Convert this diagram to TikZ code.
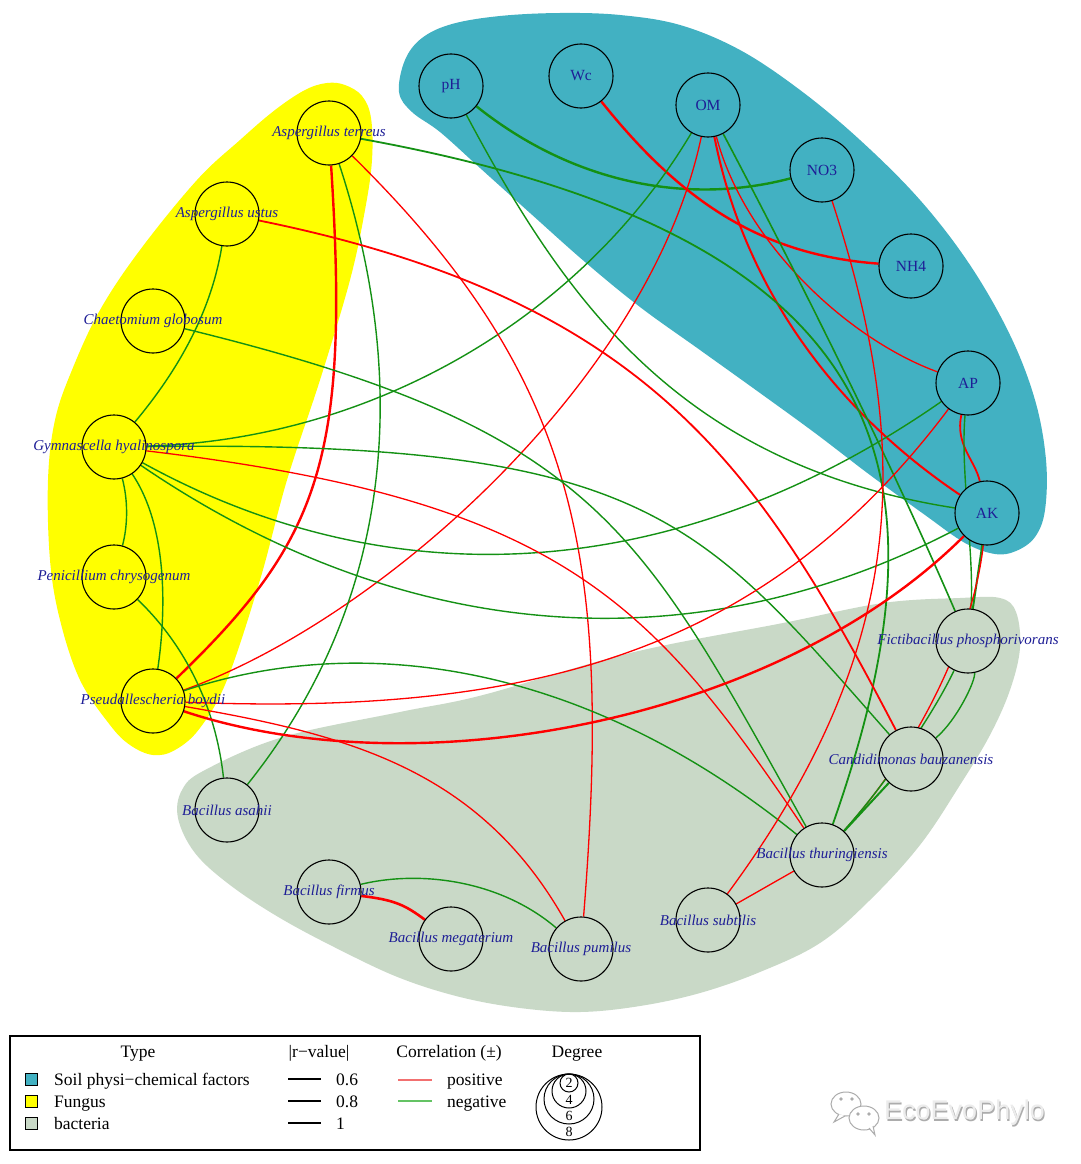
\documentclass[tikz,border=0pt]{standalone}
\usepackage{fontspec}
\setmainfont{Liberation Serif}
\newfontfamily\wmfont{Liberation Sans}
\usetikzlibrary{calc}
\pgfdeclarelayer{hulls}
\pgfdeclarelayer{edges}
\pgfsetlayers{hulls,edges,main}
\definecolor{tealc}{RGB}{66,177,194}
\definecolor{yellowc}{RGB}{255,255,0}
\definecolor{grayc}{RGB}{201,217,199}
\definecolor{lblue}{RGB}{30,30,150}
\definecolor{redc}{RGB}{255,0,0}
\definecolor{greenc}{RGB}{20,145,20}
\definecolor{legred}{RGB}{242,112,112}
\definecolor{leggreen}{RGB}{100,195,100}
\definecolor{wmdark}{RGB}{172,172,172}
\definecolor{wmlight}{RGB}{236,236,236}
\tikzset{
  vtx/.style={circle,draw=black,line width=1.1pt,minimum size=64pt,inner sep=0pt},
  soilv/.style={vtx,fill=tealc},
  fungv/.style={vtx,fill=yellowc},
  bactv/.style={vtx,fill=grayc},
  splabel/.style={text=lblue,font=\fontsize{15}{15}\selectfont\itshape,inner sep=0pt},
  soillabel/.style={text=lblue,font=\fontsize{15.5}{15.5}\selectfont,inner sep=0pt},
  spl/.style={label={[splabel]center:#1}},
  sll/.style={label={[soillabel]center:#1}},
  posedge/.style={draw=redc,line width=#1},
  posedge/.default=1.3pt,
  negedge/.style={draw=greenc,line width=#1},
  negedge/.default=1.4pt,
  lgt/.style={font=\fontsize{17.5}{17.5}\selectfont,inner sep=0pt},
  sqbox/.style={draw=black,line width=0.8pt,minimum size=12pt,inner sep=0pt},
  degnum/.style={font=\fontsize{14}{14}\selectfont,inner sep=0pt},
}
\begin{document}
\begin{tikzpicture}[x=1pt,y=-1pt]
\useasboundingbox (0,0) rectangle (1080,1164);

% ---------- hulls ----------
\begin{pgfonlayer}{hulls}
\fill[white] (0,0) rectangle (1080,1164);
\fill[tealc] plot[smooth cycle,tension=0.6] coordinates {
 (399,92) (405,60) (422,38) (452,24) (500,16) (560,13) (620,15) (680,25)
 (740,50) (800,90) (860,140) (920,200) (970,265) (1010,335) (1035,400)
 (1046,460) (1045,510) (1035,537) (1016,551) (995,554) (965,543) (925,515)
 (870,475) (815,433) (760,393) (700,350) (640,307) (585,262) (530,213)
 (480,168) (440,132) (412,112)};
\fill[yellowc] plot[smooth cycle,tension=0.6] coordinates {
 (327,83) (345,85) (362,96) (371,118) (372,160) (365,210) (350,280)
 (320,380) (287,480) (260,580) (227,680) (200,728) (175,750) (153,755)
 (130,745) (110,725) (80,680) (60,620) (50,560) (48,480) (55,420)
 (72,370) (100,310) (140,250) (197,180) (240,140) (275,110) (305,90)};
\fill[grayc] plot[smooth cycle,tension=0.6] coordinates {
 (960,598) (1000,598) (1016,612) (1020,648) (1010,690) (990,735) (960,785)
 (920,845) (870,900) (820,943) (760,972) (700,993) (640,1006) (580,1012)
 (520,1008) (460,997) (400,978) (340,950) (280,918) (230,885) (195,853)
 (178,818) (182,790) (205,770) (283,737) (400,712) (483,695) (630,653)
 (783,623) (883,603)};
\end{pgfonlayer}

% ---------- nodes ----------
\node[soilv,sll=pH]  (pH)  at (451,86)  {};
\node[soilv,sll=Wc]  (Wc)  at (581,76)  {};
\node[soilv,sll=OM]  (OM)  at (708,105) {};
\node[soilv,sll=NO3] (NO3) at (822,170) {};
\node[soilv,sll=NH4] (NH4) at (911,266) {};
\node[soilv,sll=AP]  (AP)  at (968,383) {};
\node[soilv,sll=AK]  (AK)  at (987,513) {};
\node[bactv,spl=Fictibacillus phosphorivorans] (Fic) at (968,641) {};
\node[bactv,spl=Candidimonas bauzanensis] (Can) at (911,759) {};
\node[bactv,spl=Bacillus thuringiensis] (Bth) at (822,855) {};
\node[bactv,spl=Bacillus subtilis] (Bsu) at (708,920) {};
\node[bactv,spl=Bacillus pumilus] (Bpu) at (581,949) {};
\node[bactv,spl=Bacillus megaterium] (Bme) at (451,939) {};
\node[bactv,spl=Bacillus firmus] (Bfi) at (329,892) {};
\node[bactv,spl=Bacillus asahii] (Bas) at (227,810) {};
\node[fungv,spl=Pseudallescheria boydii] (Pbo) at (153,701) {};
\node[fungv,spl=Penicillium chrysogenum] (Pch) at (114,577) {};
\node[fungv,spl=Gymnascella hyalinospora] (Ghy) at (114,447) {};
\node[fungv,spl=Chaetomium globosum] (Cgl) at (153,321) {};
\node[fungv,spl=Aspergillus ustus] (Aus) at (227,214) {};
\node[fungv,spl=Aspergillus terreus] (Ate) at (329,133) {};

% ---------- edges ----------
\begin{pgfonlayer}{edges}
\draw[negedge=2.4pt] (pH) .. controls (575,185) and (690,205) .. (NO3);
\draw[negedge] (pH) .. controls (565,300) and (680,465) .. (AK);
\draw[posedge=2.4pt] (Wc) .. controls (680,200) and (760,255) .. (NH4);
\draw[posedge=2pt] (OM) .. controls (750,315) and (862,429) .. (AK);
\draw[posedge] (OM) .. controls (745,245) and (850,340) .. (AP);
\draw[negedge=1.6pt] (OM) .. controls (803,285) and (890,460) .. (Fic);
\draw[negedge] (OM) .. controls (580,320) and (370,440) .. (Ghy);
\draw[posedge] (OM) .. controls (650,380) and (380,620) .. (Pbo);
\draw[negedge=1.8pt] (Ate) .. controls (920,240) and (950,490) .. (Bth);
\draw[negedge] (Ate) .. controls (410,380) and (395,600) .. (Bas);
\draw[posedge=2.4pt] (Ate) .. controls (350,460) and (320,540) .. (Pbo);
\draw[posedge] (Ate) .. controls (580,380) and (612,560) .. (Bpu);
\draw[posedge=1.8pt] (Aus) .. controls (650,300) and (760,470) .. (Can);
\draw[negedge] (Aus) .. controls (210,320) and (170,380) .. (Ghy);
\draw[negedge] (Cgl) .. controls (600,430) and (640,530) .. (Bth);
\draw[negedge] (Ghy) .. controls (650,440) and (700,520) .. (Can);
\draw[negedge] (Ghy) .. controls (397,603) and (682,582) .. (AP);
\draw[negedge] (Ghy) .. controls (404,645) and (695,667) .. (AK);
\draw[posedge] (Ghy) .. controls (560,500) and (650,600) .. (Bth);
\draw[negedge] (Ghy) .. controls (128,500) and (128,525) .. (Pch);
\draw[negedge] (Ghy) .. controls (170,530) and (165,620) .. (Pbo);
\draw[negedge] (Pch) .. controls (180,640) and (215,700) .. (Bas);
\draw[negedge] (Pbo) .. controls (366,630) and (589,666) .. (Bth);
\draw[posedge] (AP) .. controls (760,660) and (520,715) .. (Pbo);
\draw[posedge=2.4pt] (AK) .. controls (780,720) and (420,790) .. (Pbo);
\draw[posedge] (Pbo) .. controls (350,735) and (480,770) .. (Bpu);
\draw[negedge] (Bfi) .. controls (420,870) and (500,880) .. (Bpu);
\draw[posedge=2.6pt] (Bfi) .. controls (395,900) and (405,905) .. (Bme);
\draw[posedge] (Bth) -- (Bsu);
\draw[posedge] (NO3) .. controls (910,440) and (915,640) .. (Bsu);
\draw[posedge=1.8pt] (AP) .. controls (955,445) and (975,460) .. (AK);
\draw[negedge] (AP) .. controls (960,470) and (975,560) .. (Fic);
\draw[negedge=2pt] (AK) -- (Fic);
\draw[posedge] (AK) .. controls (973,635) and (918,749) .. (Bth);
\draw[negedge] (Bth) .. controls (884,786) and (933,715) .. (Fic);
\draw[negedge=2pt] (Bth) -- (Can);
\draw[negedge] (Can) .. controls (957,720) and (976,680) .. (Fic);
\end{pgfonlayer}

% ---------- legend ----------
\draw[line width=1.5pt] (10,1036) rectangle (700,1150);
\node[lgt,anchor=base] (lgType) at (138,1057) {Type};
\node[sqbox,fill=tealc] (sqSoil) at (31,1079) {};
\node[sqbox,fill=yellowc] (sqFun) at (31,1101) {};
\node[sqbox,fill=grayc] (sqBac) at (31,1123) {};
\node[lgt,anchor=base west] (lgSoil) at (54,1085) {Soil physi−chemical factors};
\node[lgt,anchor=base west] (lgFun) at (54,1107) {Fungus};
\node[lgt,anchor=base west] (lgBac) at (54,1129) {bacteria};

\node[lgt,anchor=base] (lgR) at (319,1057) {|r−value|};
\draw[line width=1.4pt] (288,1079) -- (321,1079);
\draw[line width=2pt] (288,1101) -- (321,1101);
\draw[line width=2.6pt] (288,1123) -- (321,1123);
\node[lgt,anchor=base west] (lgR1) at (336,1085) {0.6};
\node[lgt,anchor=base west] (lgR2) at (336,1107) {0.8};
\node[lgt,anchor=base west] (lgR3) at (336,1129) {1};

\node[lgt,anchor=base] (lgC) at (449,1057) {Correlation (±)};
\draw[legred,line width=1.5pt] (398,1080) -- (432,1080);
\draw[leggreen,line width=1.5pt] (398,1101) -- (432,1101);
\node[lgt,anchor=base west] (lgPos) at (447,1085) {positive};
\node[lgt,anchor=base west] (lgNeg) at (447,1107) {negative};

\node[lgt,anchor=base] (lgD) at (577,1057) {Degree};
\draw[line width=1pt] (569,1107) circle[radius=33pt];
\draw[line width=1pt] (569,1099) circle[radius=25pt];
\draw[line width=1pt] (569,1091) circle[radius=17pt];
\draw[line width=1pt] (569,1083) circle[radius=9pt];
\node[degnum] (d2) at (569,1083) {2};
\node[degnum] (d4) at (569,1100) {4};
\node[degnum] (d6) at (569,1116) {6};
\node[degnum] (d8) at (569,1132) {8};

% ---------- watermark ----------
\draw[wmdark,fill=white,line width=1pt] (846,1104) ellipse[x radius=15pt,y radius=12pt];
\draw[wmdark,fill=white,line width=1pt] (839,1114) -- (834,1122) -- (845,1116);
\fill[wmdark] (841,1099) circle[radius=1.8pt] (852,1099) circle[radius=1.8pt];
\draw[wmdark,fill=white,line width=1pt] (864,1118) ellipse[x radius=15pt,y radius=12pt];
\draw[wmdark,fill=white,line width=1pt] (869,1128) -- (875,1135) -- (873,1126);
\fill[wmdark] (858,1114) circle[radius=1.8pt] (869,1114) circle[radius=1.8pt];
\node[font=\wmfont\fontsize{27}{27}\selectfont,text=wmdark,anchor=west,inner sep=0pt] (wmS) at (885.2,1114.2) {EcoEvoPhylo};
\node[font=\wmfont\fontsize{27}{27}\selectfont,text=wmlight,anchor=west,inner sep=0pt] (wm) at (884,1113) {EcoEvoPhylo};
\end{tikzpicture}
\end{document}
